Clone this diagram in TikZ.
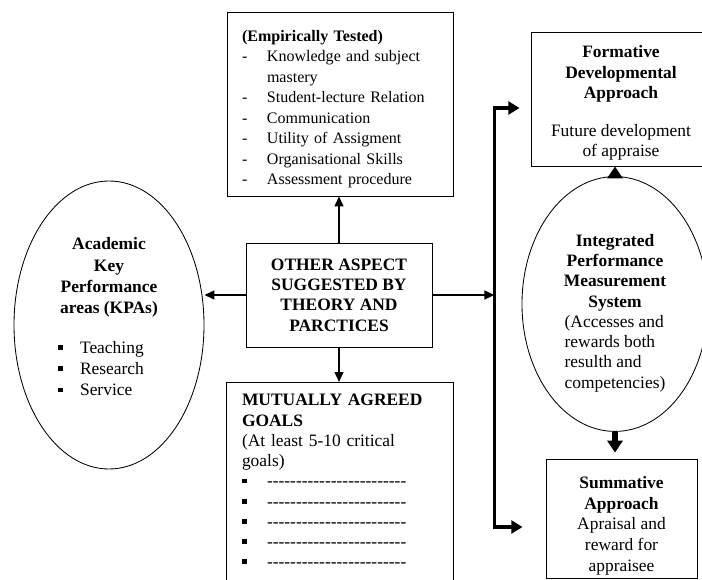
\documentclass[tikz,border=0pt]{standalone}
\usepackage{fontspec}
\setmainfont{Liberation Serif}
\usetikzlibrary{calc}
\usetikzlibrary{arrows.meta}
\usetikzlibrary{shapes.geometric}
\newcommand{\sqbullet}{\rule[0.2em]{0.12cm}{0.12cm}}
\newcommand{\goaldashes}{\foreach \k in {1,...,24}{\hbox{-}}}
\begin{document}
\begin{tikzpicture}[%
font=\fontsize{12.4}{14.7}\selectfont,
box/.style={draw,line width=0.6pt,rectangle,inner sep=0pt,align=center},
oval/.style={draw,line width=0.6pt,ellipse,inner sep=0pt,align=center},
link/.style={line width=1.4pt,-{Triangle[length=0.25cm,width=0.22cm]}},
bus/.style={line width=2.6pt,{Triangle[length=0.28cm,width=0.32cm]}-{Triangle[length=0.28cm,width=0.32cm]}},
blockarrow/.style={line width=4pt,-{Triangle[length=0.3cm,width=0.38cm]}}]%
\clip (0.0,0.0) rectangle (17.55,-14.5);%
\node[box,text width=4.9cm,minimum height=4.6cm,inner xsep=0.375cm,align=left,font=\fontsize{11.4}{14.6}\selectfont] (emp) at (8.5,-2.6) {\rule{0pt}{0.61cm}\textbf{(Empirically Tested)}\\%
\begin{tabular}[t]{@{}p{0.625cm}@{}l@{}}%
- & Knowledge and subject\\ & mastery\\- & Student-lecture Relation\\- & Communication\\%
- & Utility of Assigment\\- & Organisational Skills\\- & Assessment procedure%
\end{tabular}};%
\node[box,minimum width=4.65cm,minimum height=2.6cm,font=\bfseries\fontsize{12.4}{14.4}\selectfont] (other) at (8.475,-7.375) {OTHER ASPECT\\SUGGESTED BY\\THEORY AND\\PARCTICES};%
\node[anchor=north,text width=4.9cm,inner xsep=0.375cm,inner ysep=0.3cm,align=left,font=\fontsize{12.4}{14.4}\selectfont] (goals) at (8.5,-9.55) {\textbf{MUTUALLY AGREED}\\\textbf{GOALS}\\(At least 5-10 critical\\goals)\\%
\begin{tabular}[t]{@{}p{0.625cm}@{}l@{}}%
\sqbullet & \goaldashes\\\sqbullet & \goaldashes\\\sqbullet & \goaldashes\\\sqbullet & \goaldashes\\\sqbullet & \goaldashes%
\end{tabular}};%
\draw[line width=0.6pt] (goals.north west) rectangle ($ (goals.north east) + (0.0,-6.0) $);%
\node[oval,minimum width=4.75cm,minimum height=7.2cm,font=\fontsize{12.4}{15.2}\selectfont] (kpa) at (2.725,-8.125) {\textbf{Academic}\\\textbf{Key}\\\textbf{Performance}\\\textbf{areas (KPAs)}\\[0.45cm]%
\begin{tabular}[t]{@{}p{0.55cm}@{}l@{\hspace{0.4cm}}}%
\sqbullet & Teaching\\\sqbullet & Research\\\sqbullet & Service\rule[-0.41cm]{0pt}{0.41cm}%
\end{tabular}};%
\node[oval,minimum width=4.65cm,minimum height=6.05cm,font=\fontsize{12.4}{14.4}\selectfont] (ipms) at (15.375,-7.6) {\rule{0pt}{0.81cm}\textbf{Integrated}\\\textbf{Performance}\\\textbf{Measurement}\\\textbf{System}\\%
\begin{tabular}[t]{@{}l@{}}(Accesses and\\rewards both\\resulth and\\competencies)\end{tabular}};%
\node[box,minimum width=4.5cm,minimum height=3.35cm] (form) at (15.525,-2.475) {\rule{0pt}{0.5cm}\textbf{Formative}\\\textbf{Developmental}\\\textbf{Approach}\\[0.42cm]Future development\\of appraise};%
\node[box,minimum width=3.775cm,minimum height=2.975cm] (summ) at (15.5375,-12.9625) {\rule{0pt}{0.66cm}\textbf{Summative}\\\textbf{Approach}\\Apraisal and\\reward for\\appraisee};%
\coordinate (bustop) at (12.36,-2.7);%
\coordinate (busbot) at (12.36,-13.175);%
\draw[link] (other.north) -- (other.north |- emp.south);%
\draw[link] (other.south) -- (other.south |- goals.north);%
\draw[link] (other.west) -- (other.west -| kpa.east);%
\draw[link] (other.east) -- (other.east -| bustop);%
\draw[bus,shorten <=0.275cm,shorten >=0.575cm] (bustop -| form.west) -- (bustop) -- (busbot) -- (busbot -| summ.west);%
\draw[blockarrow] (ipms.north) -- (ipms.north |- form.south);%
\draw[blockarrow,shorten >=0.15cm] (ipms.south) -- (ipms.south |- summ.north);%
\end{tikzpicture}
\end{document}
